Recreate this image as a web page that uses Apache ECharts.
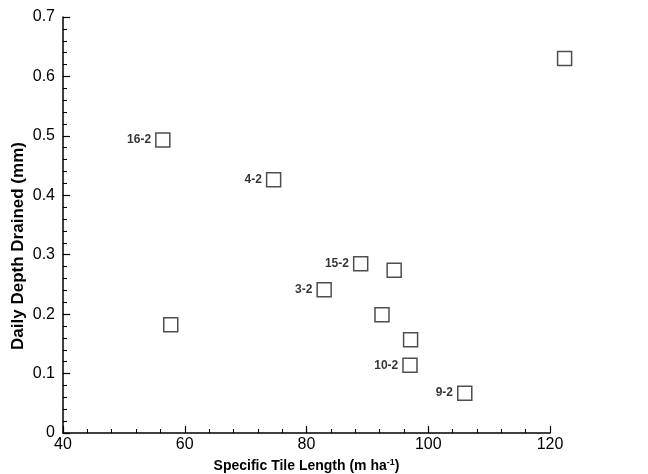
<!DOCTYPE html>
<html>
<head>
<meta charset="utf-8">
<script src="https://cdn.jsdelivr.net/npm/echarts@6/dist/echarts.min.js"></script>
<style>html,body{margin:0;padding:0;background:#fff}#c{width:648px;height:474px}</style>
</head>
<body>
<div id="c"></div>
<script>
var xValues = [56.4, 57.7, 74.6, 88.9, 94.4, 82.9, 92.4, 97.1, 97.0, 106.0, 122.4];
var yValues = [0.493, 0.182, 0.426, 0.285, 0.274, 0.241, 0.199, 0.157, 0.114, 0.067, 0.630];
var pointLabels = ['16-2', '', '4-2', '15-2', '', '3-2', '', '', '10-2', '9-2', ''];
var yTitle = 'Daily Depth Drained (mm)';

var data = xValues.map(function (x, i) {
  return { value: [x, yValues[i]], label: { show: pointLabels[i] !== '', formatter: pointLabels[i] } };
});

var font = 'Liberation Sans, Arial, Helvetica, sans-serif';
var chart = echarts.init(document.getElementById('c'), null, { renderer: 'canvas' });
chart.setOption({
  animation: false,
  backgroundColor: '#fff',
  grid: { left: 63, right: 98, top: 17, bottom: 41, containLabel: false, outerBoundsMode: 'none' },
  graphic: [{
    type: 'text',
    x: 18, y: 246,
    rotation: Math.PI / 2,
    style: {
      text: yTitle,
      fontFamily: font, fontWeight: 'bold', fontSize: 17, fill: '#000',
      textAlign: 'center', textVerticalAlign: 'middle'
    }
  }],
  xAxis: {
    type: 'value', min: 40, max: 120, interval: 20,
    name: 'Specific Tile Length (m ha{sup|-1})',
    nameLocation: 'middle', nameGap: 22,
    nameTextStyle: {
      fontFamily: font, fontWeight: 'bold', fontSize: 14, color: '#000',
      rich: { sup: { fontFamily: font, fontWeight: 'bold', fontSize: 9, verticalAlign: 'top', padding: [0, 0, 8, 0], color: '#000' } }
    },
    axisLine: { lineStyle: { color: '#000', width: 1.5 } },
    axisTick: { show: true, inside: true, length: 7, lineStyle: { color: '#000', width: 1.2 } },
    minorTick: { show: true, splitNumber: 5, length: 4, lineStyle: { color: '#000', width: 1 } },
    axisLabel: { fontFamily: font, fontSize: 16, color: '#000', margin: 4 },
    splitLine: { show: false }
  },
  yAxis: {
    type: 'value', min: 0, max: 0.7, interval: 0.1,
    axisLine: { show: true, lineStyle: { color: '#000', width: 1.5 } },
    axisTick: { show: true, inside: true, length: 7, lineStyle: { color: '#000', width: 1.2 } },
    minorTick: { show: true, splitNumber: 5, length: 4, lineStyle: { color: '#000', width: 1 } },
    axisLabel: { fontFamily: font, fontSize: 16, color: '#000', margin: 8 },
    splitLine: { show: false }
  },
  series: [{
    type: 'scatter',
    clip: false,
    symbol: 'rect',
    symbolSize: 14,
    itemStyle: { color: '#fff', borderColor: '#222', borderWidth: 1.5 },
    label: { position: 'left', distance: 4, fontFamily: font, fontWeight: 'bold', fontSize: 12, color: '#000' },
    data: data
  }]
});
</script>
</body>
</html>
